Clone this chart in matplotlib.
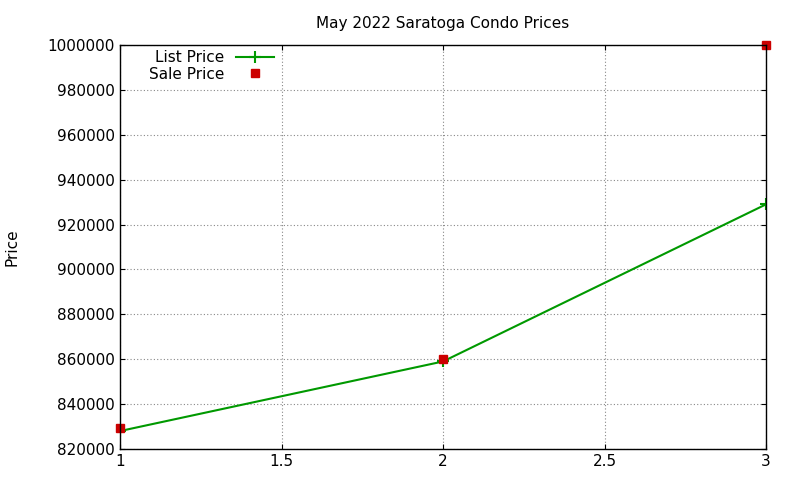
import matplotlib
matplotlib.use("Agg")
import matplotlib.pyplot as plt

x = [1, 2, 3]
list_price = [828000, 859000, 929000]
sale_price = [829500, 860000, 1000000]

fig = plt.figure(figsize=(8, 4.8), dpi=100)
ax = fig.add_axes([120/800, 1-449/480, 646/800, 404/480])
ax.plot(x, list_price, color="#009900", lw=1.5, marker="+", ms=8, mew=1.5, label="List Price")
ax.plot(x, sale_price, ls="none", marker="s", color="#cc0000", ms=6, label="Sale Price", clip_on=False)
ax.set_xlim(1, 3)
ax.set_ylim(820000, 1000000)
ax.set_xticks([1, 1.5, 2, 2.5, 3])
ax.set_xticklabels(["1", "1.5", "2", "2.5", "3"])
ax.set_yticks(range(820000, 1000001, 20000))
ax.set_yticklabels([str(v) for v in range(820000, 1000001, 20000)])
ax.grid(True, ls=(0, (1, 2)), color="#888888", lw=0.8)
ax.tick_params(direction="in", labelsize=11, top=True, right=True)
for s in ax.spines.values():
    s.set_linewidth(1)
ax.set_title("May 2022 Saratoga Condo Prices", fontsize=11, pad=12)
ax.set_ylabel("Price", fontsize=11)
ax.yaxis.set_label_coords(-100/646, 0.5)
leg = ax.legend(loc="upper left", frameon=False, fontsize=11, markerfirst=False,
                handlelength=2.5, borderaxespad=0.2, labelspacing=0.1, bbox_to_anchor=(0.03, 1.01))
fig.savefig("out.png", dpi=100)
